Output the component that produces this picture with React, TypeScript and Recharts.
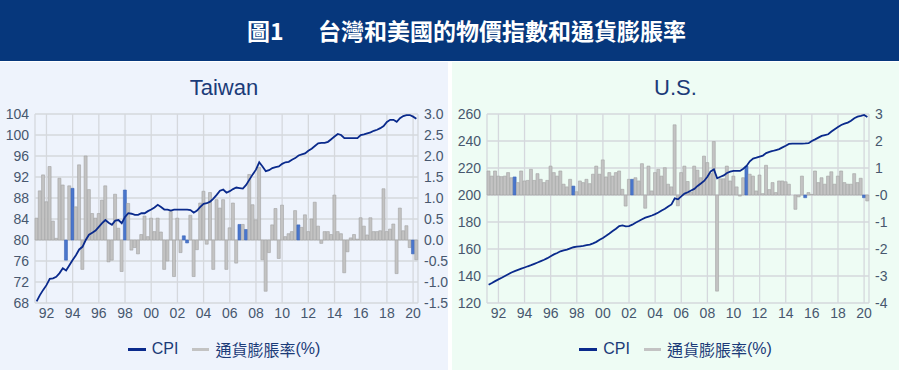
import { ComposedChart, Bar, Line, XAxis, YAxis, CartesianGrid, Cell } from "recharts";

// quarterly, 1991Q2 .. 2020Q2
const quarters = [
  "91Q2", "91Q3", "91Q4",
  "92Q1", "92Q2", "92Q3", "92Q4", "93Q1", "93Q2", "93Q3", "93Q4",
  "94Q1", "94Q2", "94Q3", "94Q4", "95Q1", "95Q2", "95Q3", "95Q4",
  "96Q1", "96Q2", "96Q3", "96Q4", "97Q1", "97Q2", "97Q3", "97Q4",
  "98Q1", "98Q2", "98Q3", "98Q4", "99Q1", "99Q2", "99Q3", "99Q4",
  "00Q1", "00Q2", "00Q3", "00Q4", "01Q1", "01Q2", "01Q3", "01Q4",
  "02Q1", "02Q2", "02Q3", "02Q4", "03Q1", "03Q2", "03Q3", "03Q4",
  "04Q1", "04Q2", "04Q3", "04Q4", "05Q1", "05Q2", "05Q3", "05Q4",
  "06Q1", "06Q2", "06Q3", "06Q4", "07Q1", "07Q2", "07Q3", "07Q4",
  "08Q1", "08Q2", "08Q3", "08Q4", "09Q1", "09Q2", "09Q3", "09Q4",
  "10Q1", "10Q2", "10Q3", "10Q4", "11Q1", "11Q2", "11Q3", "11Q4",
  "12Q1", "12Q2", "12Q3", "12Q4", "13Q1", "13Q2", "13Q3", "13Q4",
  "14Q1", "14Q2", "14Q3", "14Q4", "15Q1", "15Q2", "15Q3", "15Q4",
  "16Q1", "16Q2", "16Q3", "16Q4", "17Q1", "17Q2", "17Q3", "17Q4",
  "18Q1", "18Q2", "18Q3", "18Q4", "19Q1", "19Q2", "19Q3", "19Q4",
  "20Q1", "20Q2",
];

const xTicks = ["92Q1", "94Q1", "96Q1", "98Q1", "00Q1", "02Q1", "04Q1", "06Q1", "08Q1", "10Q1", "12Q1", "14Q1", "16Q1", "18Q1", "20Q1"];

const twCpi = [
  68.3, 69.5, 70.5,
  71.4, 72.6, 72.7, 73.0, 73.7, 74.6, 74.2, 75.2,
  76.2, 77.1, 78.2, 78.7, 80.0, 81.0, 81.4, 81.8,
  82.5, 83.2, 83.8, 83.3, 82.9, 83.7, 83.8, 83.2,
  84.4, 85.1, 85.0, 84.8, 84.8, 85.1, 85.1, 85.5,
  85.8, 86.2, 86.7, 86.3, 85.8, 85.8, 85.6, 85.8,
  85.8, 85.8, 85.8, 85.8, 85.7, 85.2, 85.6, 86.3,
  86.9, 87.0, 87.3, 87.9, 88.6, 89.4, 89.6, 89.0,
  89.3, 89.7, 90.0, 89.9, 89.8, 90.5, 91.5, 92.5,
  93.4, 94.8, 94.0, 93.1, 93.3, 93.7, 93.9, 94.0,
  94.5, 94.8, 94.9, 95.3, 95.6, 96.1, 96.3, 96.5,
  97.0, 97.4, 97.9, 98.4, 98.5, 98.5, 98.7, 99.2,
  99.7, 100.2, 100.0, 99.4, 99.4, 99.4, 99.4, 99.4,
  100.0, 100.1, 100.3, 100.5, 100.8, 101.0, 101.3, 101.7,
  102.5, 102.9, 102.9, 102.5, 103.2, 103.6, 103.8, 103.8,
  103.5, 103.1,
];

const twInfl = [
  0.52, 1.17, 1.55,
  0.91, 1.75, 0.45, 0.04, 1.47, 1.31, -0.48, 1.29,
  1.23, 0.79, 1.79, -0.7, 2.0, 1.2, 0.63, 0.52,
  0.63, 0.95, 1.29, -0.52, -0.48, 1.09, 0.28, -0.75,
  1.19, 0.87, -0.24, -0.18, -0.33, 0.13, 0.57, 0.08,
  0.52, 0.2, 0.52, 0.19, -0.7, -0.5, 0.68, -0.87,
  0.52, -0.3, 0.1, -0.07, 0.59, -0.87, -0.23, 0.88,
  1.16, -0.1, 1.13, -0.7, 0.96, 0.76, 0.96, -0.7,
  0.29, 0.88, -0.55, 0.37, 0.37, 0.25, 1.56, 0.84,
  0.48, 1.73, -0.47, -1.22, -0.3, 0.36, 0.75, -0.44,
  0.83, 0.08, 0.15, 0.2, 0.7, 0.36, 0.3, 0.6,
  0.2, 0.5, 0.9, 0.33, -0.08, 0.2, 0.2, 0.13,
  1.07, 0.2, 0.15, -0.78, -0.28, 0.05, 0.13, 0.02,
  0.53, 0.33, 0.12, 0.53, 0.2, 0.2, 0.22, 1.22,
  0.2, 0.26, 0.38, -0.8, 0.76, 0.22, 0.34, -0.18,
  -0.33, -0.47,
];
const twBlue = [9, 11, 27, 45, 46, 62, 64, 80, 115];

const usCpi = [
  133.5, 134.8, 136.2,
  137.5, 138.7, 140.0, 141.3, 142.6, 143.6, 144.5, 145.4,
  146.3, 147.2, 148.0, 149.0, 150.0, 151.0, 152.0, 153.2,
  154.6, 156.0, 157.0, 158.3, 159.0, 159.5, 160.5, 161.3,
  161.7, 162.0, 162.3, 162.8, 163.3, 164.2, 165.3, 166.8,
  168.2, 169.8, 171.5, 173.3, 175.0, 177.0, 177.5, 176.8,
  177.0, 178.0, 179.5, 180.7, 182.0, 183.2, 184.0, 184.8,
  185.8, 187.0, 188.5, 189.8, 191.5, 193.0, 197.5, 196.8,
  199.0, 201.0, 202.0, 203.3, 204.5, 206.7, 208.5, 210.4,
  213.5, 217.5, 219.0, 212.4, 213.5, 214.5, 216.3, 217.3,
  217.8, 217.8, 217.8, 219.5, 221.5, 225.0, 227.0, 227.7,
  228.5, 229.2, 231.0, 232.0, 232.6, 233.3, 234.0, 235.3,
  236.5, 237.8, 238.1, 238.1, 238.1, 238.1, 238.2, 238.4,
  240.0, 241.2, 242.5, 243.8, 244.4, 245.0, 247.0, 248.7,
  250.3, 251.9, 252.8, 253.6, 255.0, 256.9, 258.0, 258.6,
  259.3, 257.8,
];

const usInfl = [
  0.89, 0.7, 0.89,
  0.7, 0.68, 0.7, 0.83, 0.64, 0.67, 0.46, 0.89,
  0.52, 0.54, 0.95, 0.54, 0.79, 0.58, 0.46, 0.54,
  1.07, 0.83, 0.7, 0.89, 0.4, 0.3, 0.58, 0.33,
  0.12, 0.52, 0.46, 0.58, 0.42, 0.77, 1.07, 0.77,
  1.3, 0.67, 0.83, 0.7, 0.83, 0.89, 0.21, -0.41,
  0.58, 0.58, 0.64, 0.52, 1.16, -0.49, 1.07, 0.15,
  0.83, 0.95, 0.7, 1.01, 0.4, 0.3, 2.6, -0.4,
  0.83, 1.07, 0.5, 0.1, 1.07, 0.92, 0.64, 1.44,
  1.2, 0.79, 1.98, -3.56, 0.6, 0.6, 1.07, 0.52,
  0.7, 0.3, -0.04, 0.64, 1.07, 0.77, 0.7, 0.15,
  0.74, 0.05, 1.1, 0.2, 0.46, 0.09, 0.52, 0.52,
  0.49, 0.4, 0, -0.53, -0.07, 0.7, -0.1, 0.09,
  0.02, 0.89, 0.46, 0.64, 0.4, 0.7, 0.86, 0.4,
  0.7, 0.89, 0.46, 0.4, 0.4, 0.79, 0.46, 0.62,
  -0.1, -0.22,
];
const usBlue = [8, 26, 44, 79, 97, 115];

const twLeftTicks = [68, 72, 76, 80, 84, 88, 92, 96, 100, 104];
const twRightTicks = [-1.5, -1.0, -0.5, 0, 0.5, 1.0, 1.5, 2.0, 2.5, 3.0];
const usLeftTicks = [120, 140, 160, 180, 200, 220, 240, 260];
const usRightTicks = [-4, -3, -2, -1, 0, 1, 2, 3];

const tickStyle = { fill: "#47576e", fontSize: 14, fontFamily: "'Liberation Sans', Arial, sans-serif" };
const navy = "#1b3b78";

function Panel(props: any) {
  const { title, left, width, bg, cpi, infl, blue, leftTicks, rightTicks, rightFmt } = props;
  const data = quarters.map((q, i) => ({ q, cpi: cpi[i], infl: infl[i] }));
  return (
    <div style={{ position: "absolute", left, top: 62, width, height: 308, background: bg }}>
      <div style={{ position: "absolute", left: 0, top: 12, width, textAlign: "center", fontSize: 22, lineHeight: "28px", color: navy, fontFamily: "'Liberation Sans', Arial, sans-serif" }}>
        {title}
      </div>
      <ComposedChart width={width} height={308} data={data} margin={{ top: 52, right: 0, bottom: 47, left: 0 }} barCategoryGap={0} barGap={0}>
        <CartesianGrid yAxisId="l" stroke="#d5d8dd" strokeWidth={1.3} />
        <XAxis dataKey="q" ticks={xTicks} interval={0} tickFormatter={(v: string) => v.slice(0, 2)} axisLine={false} tickLine={false} tickSize={0} tickMargin={5} height={20} tick={tickStyle} />
        <YAxis yAxisId="l" orientation="left" width={35} domain={[leftTicks[0], leftTicks[leftTicks.length - 1]]} ticks={leftTicks} interval={0} axisLine={false} tickLine={false} tickSize={0} tickMargin={6} tick={tickStyle} />
        <YAxis yAxisId="r" orientation="right" width={30} domain={[rightTicks[0], rightTicks[rightTicks.length - 1]]} ticks={rightTicks} interval={0} tickFormatter={rightFmt} axisLine={false} tickLine={false} tickSize={0} tickMargin={6} tick={tickStyle} />
        <Bar yAxisId="r" dataKey="infl" isAnimationActive={false} fill="#c3c3c3" stroke="#a2a2a2" strokeWidth={0.6}>
          {data.map((d, i) => (
            <Cell key={d.q} fill={blue.includes(i) ? "#4a76cc" : "#c3c3c3"} stroke={blue.includes(i) ? "#3c66b8" : "#a2a2a2"} />
          ))}
        </Bar>
        <Line yAxisId="l" type="linear" dataKey="cpi" stroke="#0a2a8c" strokeWidth={1.8} dot={false} isAnimationActive={false} />
      </ComposedChart>
      <div style={{ position: "absolute", left: 0, top: 276, width, display: "flex", justifyContent: "center", alignItems: "center", fontSize: 16, lineHeight: "22px", color: navy, fontFamily: "'Liberation Sans', Arial, 'Noto Sans CJK TC', sans-serif" }}>
        <span style={{ display: "inline-block", width: 18, height: 3, background: "#0a2a8c", marginRight: 6 }} />
        <span>CPI</span>
        <span style={{ display: "inline-block", width: 17, height: 3, background: "#c3c3c3", marginLeft: 14, marginRight: 6 }} />
        <span style={{ fontFamily: "'Noto Sans CJK TC', sans-serif" }}>通貨膨脹率</span>
        <span>(%)</span>
      </div>
    </div>
  );
}

export default function App() {
  return (
    <div style={{ position: "absolute", left: 0, top: 0, width: 899, height: 370, background: "#ffffff", overflow: "hidden" }}>
      <div style={{ position: "absolute", left: 0, top: 0, width: 899, height: 61, background: "#06377c" }}>
        <span style={{ position: "absolute", left: 247, top: 14, fontSize: 23, lineHeight: "32px", color: "#ffffff", fontWeight: 700, fontFamily: "'Noto Sans CJK TC', sans-serif" }}>圖1</span>
        <span style={{ position: "absolute", left: 318, top: 14, fontSize: 23, lineHeight: "32px", color: "#ffffff", fontWeight: 700, fontFamily: "'Noto Sans CJK TC', sans-serif" }}>台灣和美國的物價指數和通貨膨脹率</span>
      </div>
      <Panel title="Taiwan" left={0} width={448} bg="#eef3fc" cpi={twCpi} infl={twInfl} blue={twBlue} leftTicks={twLeftTicks} rightTicks={twRightTicks} rightFmt={(v: number) => v.toFixed(1)} />
      <Panel title="U.S." left={452} width={447} bg="#eefcf4" cpi={usCpi} infl={usInfl} blue={usBlue} leftTicks={usLeftTicks} rightTicks={usRightTicks} rightFmt={(v: number) => (v === 0 ? "-0" : String(v))} />
    </div>
  );
}
